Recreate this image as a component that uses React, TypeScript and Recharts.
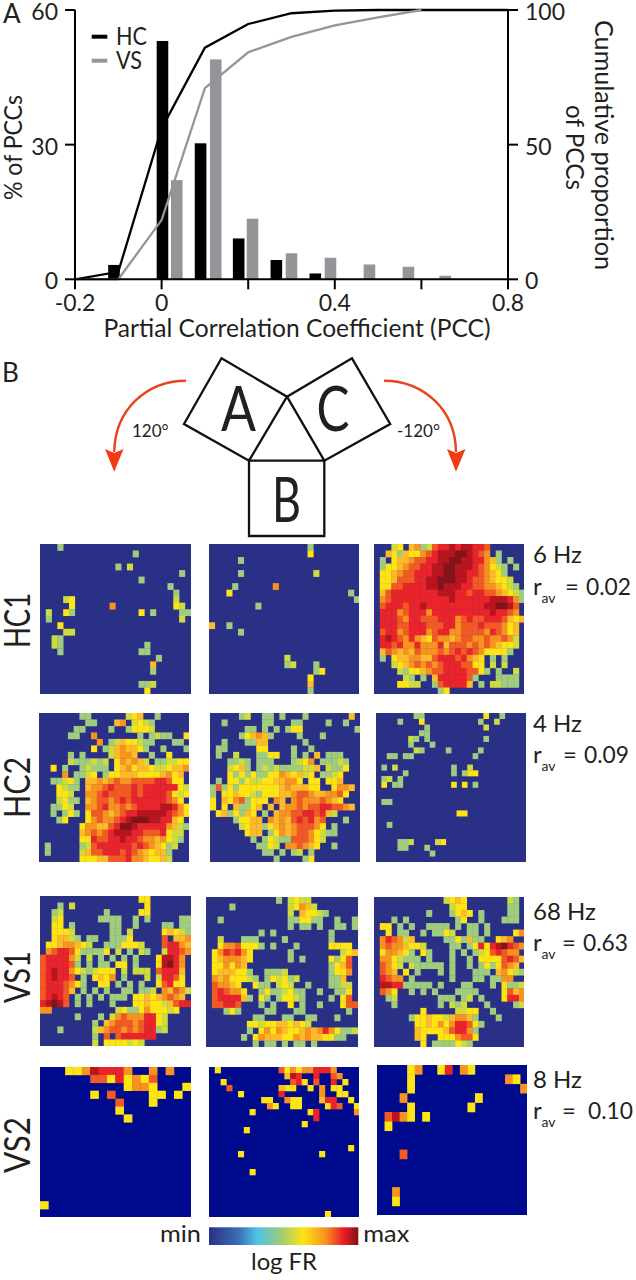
import { Bar, ComposedChart, Line, Scatter, ScatterChart, XAxis, YAxis } from 'recharts'

const FONT = 'Lato, "Open Sans", sans-serif'
const INK = '#231f20'
const GREY = '#939598'

// panel A, histogram bins
const hcBinX = [-0.11, 0.002, 0.09, 0.178, 0.265, 0.355]
const hcPercent = [3.2, 53.1, 30.3, 9.1, 4.3, 1.3]
const vsBinX = [0.035, 0.125, 0.21, 0.3, 0.39, 0.48, 0.57, 0.655]
const vsPercent = [22.1, 49, 13.5, 5.8, 4.8, 3.3, 2.8, 0.8]

// panel A, cumulative curves
const cumX = [-0.2, -0.1, 0, 0.1, 0.2, 0.3, 0.4, 0.5, 0.6, 0.8]
const hcCum = [0, 2.8, 56, 86, 94.8, 98.8, 99.8, 100, 100, 100]
const vsCum = [0, 0, 22, 71, 84.3, 90, 94.3, 97.3, 100, null]

const xTicks = [-0.2, 0, 0.2, 0.4, 0.6, 0.8]
const xTickLabels = ['-0.2', '0', '', '0.4', '', '0.8']
const leftTicks = [0, 30, 60]
const rightTicks = [0, 50, 100]

const barRows = [
  ...hcBinX.map((x, i) => ({ x, hc: hcPercent[i] })),
  ...vsBinX.map((x, i) => ({ x, vs: vsPercent[i] })),
].sort((a, b) => a.x - b.x)
const curveRows = cumX.map((x, i) => ({ x, hcCum: hcCum[i], vsCum: vsCum[i] }))

// panel B, firing maps. level 0 is background, 1 green ... 9 darkest red
type Triple = [number, number, number]

const hc1Left: Triple[] = [
  [3,0,1],[16,1,1],[13,3,1],[15,3,2],[24,4,1],[17,5,1],[22,6,1],[23,7,1],[23,8,2],[23,9,3],[24,9,2],[4,8,2],[5,8,3],[5,9,3],
  [12,9,5],[4,10,3],[5,10,1],[1,10,2],[1,11,1],[17,10,3],[19,10,1],[24,10,1],[25,10,1],[24,11,2],[3,12,3],[4,13,2],[5,13,2],
  [2,14,2],[3,14,1],[2,15,2],[3,15,1],[3,16,1],[18,15,1],[17,16,1],[18,16,1],[20,17,1],[19,18,4],[19,19,1],[17,21,1],[18,21,1],
  [19,21,2],[18,22,3],
]
const hc1Mid: Triple[] = [
  [17,0,1],[17,1,3],[5,2,1],[5,4,1],[18,4,2],[4,6,1],[3,7,3],[11,6,5],[24,7,1],[25,8,1],[8,9,1],[0,12,4],[3,12,1],[5,13,1],
  [13,17,2],[13,18,1],[14,18,2],[18,18,1],[18,19,1],[19,19,3],[17,20,3],[17,21,4],[17,22,1],
]
const hc1Right = [
  '...23.45126778788776......',
  '..431433567888998765.1....',
  '.1.3445667788998877541.1..',
  '.1334566778899888765321.1.',
  '.3345667778899887765431...',
  '.33466677889998876654332..',
  '.336677778898887766554321.',
  '.4677777777888776776654321',
  '.5677777777778777777888751',
  '.677767787777777777889986.',
  '.777567775777777777787765.',
  '.7776577666777567667776434',
  '.777667776667756667666534.',
  '.677567775677556666576534.',
  '.787657543655456655655652.',
  '.776755755574666565654332.',
  '.46545465556567676533331..',
  '.1.3445544677767543.1.1...',
  '...2345656567776633.2.2...',
  '....2133456677776631.1..2.',
  '.....21.1.47777761...1111.',
  '....3322..1677774.1.22111.',
  '...........13.............',
]
const hc2Left = [
  '.......11......234..1.....',
  '........11...45.2321......',
  '......11....1..13332......',
  '.....11..5.......1.1211..3',
  '..........5.12433211...11.',
  '.........3.12454431..1...1',
  '.....1.1....24554..1..3...',
  '.....2111212.354542.112233',
  '..3.1..12111.3453443223445',
  '....5.1123.13344433334534.',
  '..11231.44545655666677633.',
  '...3211.455676667677777732',
  '...332..556766667677776323',
  '...2311.45665676777777653.',
  '..1132..556755656777788753',
  '..1.131.366545677888887653',
  '...13...35655678999887743.',
  '.......3554467998777775421',
  '.......456567888776667322.',
  '.......33766778776554 5321',
  '.1.....12677777767654312..',
  '.1.....24667776765434 41..',
  '.......33344666755433 42..',
]
const hc2Mid = [
  '.....12..11.1...1.......4.',
  '..1......11...11....1..1..',
  '......11.1.1.133.........1',
  '.....134541....1...1......',
  '..1...1144......1.........',
  '.11.....33....1..1........',
  '.1..2...1133..1.1.4.111...',
  '...1121.111...1235.11121..',
  '...2341.12121111224.2113..',
  '...313131133543423.1123...',
  '.1.3313223344553.33.334...',
  '161313333333454443 3..3554',
  '1.33433213334456654455 63.',
  '3.43561333.54.565556543...',
  '3.3.41134.4.4556566776654.',
  '.34131 43.1.45566776742...',
  '....13344.5454676756...1..',
  '.....23441345456665 3.1...',
  '......344.135456653 21 1..',
  '.......1.13211666 53 2....',
  '........1132.556543 ..1...',
  '.........11.1.12.1........',
  '...........1....13........',
]
const hc2Right: Triple[] = [
  [7,0,1],[8,0,1],[20,0,3],[23,0,1],[4,1,1],[8,1,3],[19,1,1],[22,1,2],[9,2,1],[20,2,2],[8,3,1],[9,3,1],[6,4,2],[7,4,1],[9,4,1],
  [20,4,1],[6,5,1],[10,5,1],[7,6,2],[8,6,1],[13,6,1],[19,6,1],[2,7,1],[3,7,1],[5,7,1],[6,7,1],[18,7,1],[1,9,1],[3,9,2],[14,9,1],
  [17,9,2],[5,10,1],[14,10,1],[16,10,1],[17,10,3],[18,10,3],[1,11,1],[2,11,2],[4,11,1],[1,12,3],[3,12,1],[4,12,1],[14,12,3],
  [16,12,3],[18,12,1],[1,15,1],[2,15,1],[15,17,3],[16,17,3],[2,19,1],[4,22,1],[5,22,1],[6,22,2],[11,22,2],[12,22,3],[4,23,1],
  [5,23,1],[9,23,1],[10,24,1],
]
const vs1Left = [
  '.................33.......',
  '...1.2............3.......',
  '..12.......1.....33.......',
  '..23......1111..1.1.....11',
  '..33.1......11..1....11.11',
  '..3332......11.2.....34321',
  '..34421.11..1113.....6.445',
  '.33455432..1113332...67754',
  '.56776311113.2.1.21..27765',
  '6777752.2.1.1.1.1...38875.',
  '6777761.1.11.33.1...38975.',
  '6787753212333.2.222.67774.',
  '678776.1.3435.1...2.27763.',
  '67776531..33.1.1.1..36733.',
  '677764.1.1.1..11.112.54652',
  '67876.1.1.1.111.334345654.',
  '78986.1.1...1...3343324677',
  '55...........23113533323..',
  '......1...1.2565557732....',
  '.........1.45666567732....',
  '...1.....245665656771 2...',
  '.........1.6.6777777......',
  '.........2.3333232........',
]
const vs1Mid = [
  '............1.2322........',
  '....1.........23542.......',
  '..............2.43321.....',
  '..1...........113311..1..1',
  '..............1.11.1..11.1',
  '.........1.1.........1....',
  '..2...111....1.......1....',
  '..355633 31.1...1.....3333',
  '.3576753......1........234',
  '.34555 43......1.1....3136',
  '.33535 4..............1346',
  '.34443 31..1112.......1335',
  '.54533 321.13231 2.....114',
  '.65543..311.232..1...1122',
  '.676553..1311231 1..1..113',
  '.677774 1.31.13321....1.36',
  '.66776...1.1..3.1..1...366',
  '...131....11...11.......1',
  '........11...11..11...1...',
  '.......33233443432........',
  '.......1.35354334545753112',
  '......1.354443354544331 1.',
  '........1.11.1.11.1.......',
]
const vs1Right = [
  '............2343.......21.',
  '.............233.......11.',
  '.........1...1343.1....11.',
  '...1.1........13..1...111.',
  '.33.1.1..1111.1.11.1......',
  '..3.11..1.1132..11.1....35',
  '.576524.....113141 1..345.',
  '.56554332....11.1373789765',
  '.355431.31...1.1.12367 655',
  '.5532111.1...1..1.33336764',
  '.6532.21111 1.1..1.1313654',
  '.654.3.1...1.1...111.4532 1',
  '.7655.1......1...11.1155..',
  '.88771111 1.1...11...1.3112',
  '.653..1.1.1...1111....3645',
  '..12.......111.12.1...3775',
  '...1.......1.212...1....125',
  '........3.....2233..1.....',
  '......13343324554 1...1...',
  '.......334353 577 631.....',
  '.......43333467 751.......',
  '.......43..333566 3.......',
  '........3.11113 21........',
]
const vs2Left: Triple[] = [
  [3,0,3],[4,0,3],[5,0,5],[6,0,8],[7,0,7],[8,0,7],[9,0,7],[10,0,5],[13,0,5],[15,0,5],[6,1,6],[7,1,6],[8,1,3],[9,1,7],[10,1,3],
  [11,1,5],[12,1,3],[13,1,6],[10,2,3],[11,2,5],[12,2,5],[13,2,3],[17,2,3],[6,3,3],[8,3,6],[13,3,3],[14,3,3],[16,3,3],[9,4,6],
  [13,4,3],[9,5,3],[10,6,3],[0,17,3],
]
const vs2Mid: Triple[] = [
  [1,0,3],[12,0,6],[13,0,3],[14,0,5],[15,0,3],[16,0,5],[17,0,5],[18,0,7],[19,0,7],[20,0,7],[21,0,5],[13,1,4],[14,1,8],[15,1,7],
  [18,1,7],[21,1,6],[22,1,5],[2,2,3],[14,2,6],[15,2,7],[16,2,3],[18,2,6],[21,2,7],[23,2,3],[3,3,6],[12,3,4],[13,3,3],[14,3,3],
  [17,3,3],[19,3,5],[21,3,3],[22,3,3],[5,4,3],[12,4,7],[19,4,5],[22,4,3],[23,4,3],[9,5,3],[10,5,3],[13,5,5],[14,5,3],[15,5,3],
  [19,5,4],[20,5,7],[21,5,7],[24,5,3],[10,6,5],[11,6,3],[14,6,3],[15,6,3],[20,6,3],[21,6,7],[22,6,6],[25,6,3],[7,7,3],[17,7,3],
  [18,7,7],[25,7,5],[18,8,7],[16,9,3],[6,10,3],[24,13,3],[5,14,3],[19,14,3],[7,17,3],[20,24,3],
]
const vs2Right: Triple[] = [
  [4,0,3],[5,0,5],[8,0,3],[9,0,7],[11,0,5],[12,0,3],[4,1,3],[17,1,5],[18,1,3],[4,2,3],[19,2,5],[3,3,5],[13,3,3],[4,4,3],[12,4,3],
  [1,5,6],[2,5,8],[3,5,5],[4,5,3],[6,5,3],[1,6,3],[3,9,6],[2,13,5],[2,14,3],
]

const levelColors = ['', '#a0cc7e', '#cfdc3e', '#ffe414', '#fdbb2a', '#f7931e', '#f15a24', '#e9242a', '#b9151d', '#82141a']

const fromTriples = (list: Triple[]) => list.map(([c, r, level]) => ({ x: c + 0.5, y: r + 0.5, level }))
const fromRows = (rows: string[]) =>
  rows.flatMap((row, r) =>
    row
      .replace(/ /g, '')
      .split('')
      .map((ch, c) => ({ x: c + 0.5, y: r + 0.5, level: ch === '.' ? 0 : Number(ch) }))
      .filter((d) => d.level > 0 && d.x < 26),
  )

const NAVY = '#2b3087'
const DEEP = '#000a8c'

const panels = [
  { cells: fromTriples(hc1Left), cols: 26, rows: 23, x: 40, y: 544, w: 150.7, h: 150, bg: NAVY },
  { cells: fromTriples(hc1Mid), cols: 26, rows: 23, x: 208.7, y: 544, w: 150.7, h: 150, bg: NAVY },
  { cells: fromRows(hc1Right), cols: 26, rows: 23, x: 373.7, y: 544, w: 150.7, h: 150, bg: NAVY },
  { cells: fromRows(hc2Left), cols: 26, rows: 23, x: 39, y: 713, w: 150.3, h: 149, bg: NAVY },
  { cells: fromRows(hc2Mid), cols: 26, rows: 23, x: 209.7, y: 713, w: 150.3, h: 149, bg: NAVY },
  { cells: fromTriples(hc2Right), cols: 28, rows: 26, x: 375.7, y: 713, w: 150.3, h: 149, bg: NAVY },
  { cells: fromRows(vs1Left), cols: 26, rows: 23, x: 40, y: 896.3, w: 150.7, h: 150, bg: NAVY },
  { cells: fromRows(vs1Mid), cols: 26, rows: 23, x: 206, y: 897, w: 151.7, h: 150, bg: NAVY },
  { cells: fromRows(vs1Right), cols: 26, rows: 23, x: 373.7, y: 897, w: 150.7, h: 150, bg: NAVY },
  { cells: fromTriples(vs2Left), cols: 18, rows: 19, x: 40, y: 1066.7, w: 150.7, h: 150, bg: DEEP },
  { cells: fromTriples(vs2Mid), cols: 26, rows: 25, x: 208.7, y: 1066.7, w: 150.7, h: 150, bg: DEEP },
  { cells: fromTriples(vs2Right), cols: 20, rows: 16, x: 376.7, y: 1064.7, w: 150.7, h: 150.3, bg: DEEP },
]

function HeatPanel({ p }: { p: (typeof panels)[number] }) {
  const cw = p.w / p.cols
  const ch = p.h / p.rows
  // a little overdraw so no hairlines show between neighbours
  const shape = (s: any) => (
    <rect x={s.cx - cw / 2} y={s.cy - ch / 2} width={cw + 0.3} height={ch + 0.3} fill={levelColors[s.payload.level]} />
  )
  return (
    <div style={{ position: 'absolute', left: p.x, top: p.y, width: p.w, height: p.h, background: p.bg }}>
      <ScatterChart width={p.w} height={p.h} margin={{ top: 0, right: 0, bottom: 0, left: 0 }}>
        <XAxis type="number" dataKey="x" domain={[0, p.cols]} hide />
        <YAxis type="number" dataKey="y" domain={[0, p.rows]} reversed hide />
        <Scatter data={p.cells} shape={shape} isAnimationActive={false} />
      </ScatterChart>
    </div>
  )
}

function Txt({ x, y, size = 22, anchor = 'start', rotate, len, children }: any) {
  return (
    <text
      x={x}
      y={y}
      fontSize={size}
      fontFamily={FONT}
      fill={INK}
      textAnchor={anchor}
      textLength={len}
      lengthAdjust={len ? 'spacingAndGlyphs' : undefined}
      transform={rotate ? `rotate(${rotate} ${x} ${y})` : undefined}
    >
      {children}
    </text>
  )
}

function Rate({ hz, hzY, rY, eqX, value, valueX }: any) {
  return (
    <>
      <Txt x={533} y={hzY} size={24}>{hz}</Txt>
      <Txt x={533} y={rY} size={24}>r</Txt>
      <Txt x={541.5} y={rY + 8} size={14}>av</Txt>
      <Txt x={eqX} y={rY} size={24}>=</Txt>
      <Txt x={valueX} y={rY} size={24} len={45}>{value}</Txt>
    </>
  )
}

function Overlay() {
  return (
    <svg width={636} height={1280} style={{ position: 'absolute', left: 0, top: 0, pointerEvents: 'none' }}>
      <defs>
        <linearGradient id="fr">
          <stop offset="0" stopColor="#2b3087" />
          <stop offset="0.2" stopColor="#3a6fb5" />
          <stop offset="0.32" stopColor="#4cc3e6" />
          <stop offset="0.48" stopColor="#9ccb7a" />
          <stop offset="0.63" stopColor="#ffe414" />
          <stop offset="0.78" stopColor="#f7931e" />
          <stop offset="0.9" stopColor="#ed1c24" />
          <stop offset="1" stopColor="#7f1416" />
        </linearGradient>
      </defs>

      <Txt x={3} y={22.7} size={26}>A</Txt>
      <Txt x={2} y={382} size={26}>B</Txt>

      <line x1={91.7} x2={107.3} y1={36.7} y2={36.7} stroke="#000" strokeWidth={4} />
      <line x1={91.7} x2={107.3} y1={60.7} y2={60.7} stroke={GREY} strokeWidth={4} />
      <Txt x={116} y={44.5} size={25} len={31}>HC</Txt>
      <Txt x={116} y={68.5} size={25} len={26}>VS</Txt>

      <Txt x={22} y={147.5} size={25} anchor="middle" rotate={-90} len={105}>% of PCCs</Txt>
      <Txt x={297} y={337} size={25} anchor="middle" len={387}>Partial Correlation Coefficient (PCC)</Txt>
      <Txt x={595} y={145} size={25} anchor="middle" rotate={90} len={250}>Cumulative proportion</Txt>
      <Txt x={566} y={147.5} size={25} anchor="middle" rotate={90} len={85}>of PCCs</Txt>

      <g fill="none" stroke="#111" strokeWidth={2.3} strokeLinejoin="miter">
        <polygon points="221.5,358.3 287,396.7 249,460.7 184,424" />
        <polygon points="352,358.3 287,396.7 324.3,460.7 390.2,424" />
        <polygon points="249,460.7 324.3,460.7 324.3,536 249,536" />
      </g>
      <Txt x={238.6} y={431} size={62} anchor="middle" len={35}>A</Txt>
      <Txt x={333} y={431} size={62} anchor="middle" len={33}>C</Txt>
      <Txt x={286.5} y={521.5} size={62} anchor="middle" len={29}>B</Txt>
      <Txt x={132} y={436.5} size={17}>120°</Txt>
      <Txt x={397} y={436.5} size={17}>-120°</Txt>

      <g fill="none" stroke="#e8431c" strokeWidth={2.4}>
        <path d="M186 380.7 C146 381 115 410 114.2 452" />
        <path d="M384 380.7 C424 381 455.5 410 456 452" />
      </g>
      <polygon points="105,449 114.2,453 123.5,449 114.2,471.7" fill="#f03c12" />
      <polygon points="447,449 456,453 465.5,449 456,471.7" fill="#f03c12" />

      <Txt x={30} y={620.5} size={36} anchor="middle" rotate={-90} len={55}>HC1</Txt>
      <Txt x={30} y={787.5} size={36} anchor="middle" rotate={-90} len={61}>HC2</Txt>
      <Txt x={30} y={977} size={36} anchor="middle" rotate={-90} len={52}>VS1</Txt>
      <Txt x={30} y={1145} size={36} anchor="middle" rotate={-90} len={56}>VS2</Txt>

      <Rate hz="6 Hz" hzY={563} rY={595} eqX={565} valueX={586} value="0.02" />
      <Rate hz="4 Hz" hzY={731.5} rY={763} eqX={563} valueX={584} value="0.09" />
      <Rate hz="68 Hz" hzY={919.5} rY={951} eqX={562} valueX={583} value="0.63" />
      <Rate hz="8 Hz" hzY={1087.5} rY={1119} eqX={562} valueX={588} value="0.10" />

      <Txt x={160} y={1242} size={24} len={41}>min</Txt>
      <rect x={209} y={1227.3} width={149.3} height={17.7} fill="url(#fr)" />
      <Txt x={363.3} y={1242} size={24} len={46}>max</Txt>
      <Txt x={284} y={1270} size={24} anchor="middle" len={66}>log FR</Txt>
    </svg>
  )
}

const axisTick = { fontSize: 23, fontFamily: FONT, fill: INK }
const sideTick = { ...axisTick, dy: 2 }
const axisLine = { stroke: '#000', strokeWidth: 2 }

// the number axis squeezes bars to a sliver, so the width is set here
const wideBar = (b: any) => (
  <rect x={b.x + b.width / 2 - 5.8} y={b.y} width={11.6} height={b.height} fill={b.fill} />
)

export default function App() {
  return (
    <div style={{ position: 'absolute', left: 0, top: 0, width: 636, height: 1280, background: '#fff' }}>
      <div style={{ position: 'absolute', left: 0, top: 0 }}>
        <ComposedChart
          width={636}
          height={340}
          data={barRows}
          margin={{ top: 10, right: 0, bottom: 0, left: 0 }}
        >
          <XAxis
            type="number"
            dataKey="x"
            domain={[-0.2, 0.8]}
            ticks={xTicks}
            tickFormatter={(v: number) => xTickLabels[xTicks.indexOf(v)]}
            tick={axisTick}
            tickSize={10}
            tickMargin={5}
            height={60.7}
            axisLine={axisLine}
            tickLine={axisLine}
            interval={0}
            allowDataOverflow
          />
          <YAxis
            yAxisId="pct"
            domain={[0, 60]}
            ticks={leftTicks}
            tick={sideTick}
            tickSize={10}
            tickMargin={7}
            width={75}
            axisLine={axisLine}
            tickLine={axisLine}
            interval={0}
          />
          <YAxis
            yAxisId="cum"
            orientation="right"
            domain={[0, 100]}
            ticks={rightTicks}
            tick={sideTick}
            tickSize={10}
            tickMargin={7}
            width={128}
            axisLine={axisLine}
            tickLine={axisLine}
            interval={0}
          />
          <Bar yAxisId="pct" dataKey="hc" stackId="h" fill="#000" shape={wideBar} isAnimationActive={false} />
          <Bar yAxisId="pct" dataKey="vs" stackId="h" fill={GREY} shape={wideBar} isAnimationActive={false} />
          <Line yAxisId="cum" data={curveRows} dataKey="hcCum" stroke="#000" strokeWidth={2.3} dot={false} isAnimationActive={false} />
          <Line yAxisId="cum" data={curveRows} dataKey="vsCum" stroke={GREY} strokeWidth={2.3} dot={false} isAnimationActive={false} />
        </ComposedChart>
      </div>
      {panels.map((p, i) => (
        <HeatPanel key={i} p={p} />
      ))}
      <Overlay />
    </div>
  )
}
